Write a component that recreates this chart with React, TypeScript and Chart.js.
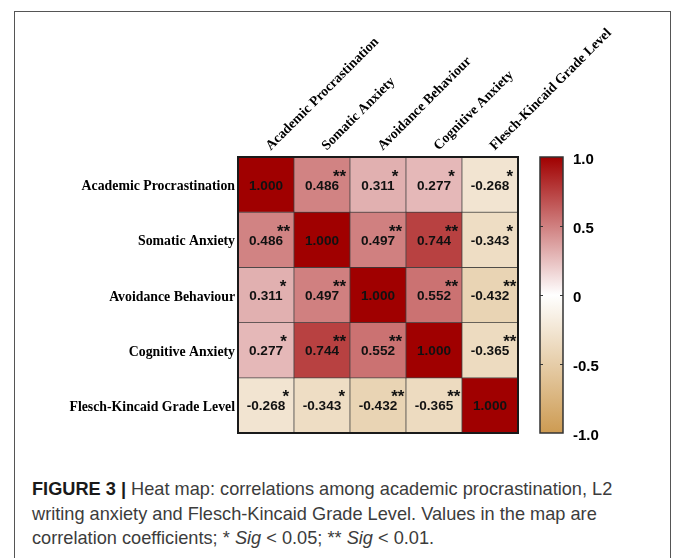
import React, { useEffect, useRef } from "react";
import { Chart, registerables } from "chart.js";

Chart.register(...registerables);

// ---------- data ----------
const variables = [
  "Academic Procrastination",
  "Somatic Anxiety",
  "Avoidance Behaviour",
  "Cognitive Anxiety",
  "Flesch-Kincaid Grade Level",
];

const academicProcrastination = [1.0, 0.486, 0.311, 0.277, -0.268];
const somaticAnxiety = [0.486, 1.0, 0.497, 0.744, -0.343];
const avoidanceBehaviour = [0.311, 0.497, 1.0, 0.552, -0.432];
const cognitiveAnxiety = [0.277, 0.744, 0.552, 1.0, -0.365];
const fleschKincaidGradeLevel = [-0.268, -0.343, -0.432, -0.365, 1.0];

const academicProcrastinationSig = ["", "**", "*", "*", "*"];
const somaticAnxietySig = ["**", "", "**", "**", "*"];
const avoidanceBehaviourSig = ["*", "**", "", "**", "**"];
const cognitiveAnxietySig = ["*", "**", "**", "", "**"];
const fleschKincaidGradeLevelSig = ["*", "*", "**", "**", ""];

const colorbarMin = -1;
const colorbarMax = 1;
const colorbarStep = 0.5;
const colorbarTickLabels: Record<string, string> = {
  "-1": "-1.0",
  "-0.5": "-0.5",
  "0": "0",
  "0.5": "0.5",
  "1": "1.0",
};

const matrix = [
  academicProcrastination,
  somaticAnxiety,
  avoidanceBehaviour,
  cognitiveAnxiety,
  fleschKincaidGradeLevel,
];
const sigMatrix = [
  academicProcrastinationSig,
  somaticAnxietySig,
  avoidanceBehaviourSig,
  cognitiveAnxietySig,
  fleschKincaidGradeLevelSig,
];

// ---------- colour map ----------
const POS_END = [160, 0, 0];
const NEG_END = [205, 155, 82];
function colorFor(v: number): string {
  const end = v >= 0 ? POS_END : NEG_END;
  const t = Math.min(1, Math.abs(v));
  const c = end.map((e) => Math.round(255 + (e - 255) * t));
  return `rgb(${c[0]},${c[1]},${c[2]})`;
}

const SANS = "'Liberation Sans', Arial, Helvetica, sans-serif";
const SERIF = "'Liberation Serif', 'Times New Roman', serif";

const cellPlugin = {
  id: "cellLabels",
  afterDatasetsDraw(chart: any) {
    const ctx = chart.ctx as CanvasRenderingContext2D;
    const area = chart.chartArea;
    chart.data.datasets.forEach((_ds: any, r: number) => {
      const meta = chart.getDatasetMeta(r);
      meta.data.forEach((el: any, c: number) => {
        const p = el.getProps(["x", "y", "base"], true);
        const cy = (p.y + p.base) / 2;
        const txt = matrix[r][c].toFixed(3);
        ctx.save();
        ctx.font = `bold 13.6px ${SANS}`;
        ctx.fillStyle = "#111";
        ctx.textAlign = "center";
        ctx.textBaseline = "middle";
        ctx.fillText(txt, p.x, cy + 1.2);
        const w = ctx.measureText(txt).width;
        const stars = sigMatrix[r][c];
        if (stars) {
          ctx.font = `bold 17px ${SANS}`;
          ctx.textAlign = "center";
          ctx.textBaseline = "alphabetic";
          ctx.fillText(stars, p.x + w / 2 + 0.5, cy - 3);
        }
        ctx.restore();
      });
    });
    ctx.save();
    ctx.strokeStyle = "#1a1a1a";
    ctx.lineWidth = 2;
    ctx.strokeRect(area.left, area.top, area.right - area.left, area.bottom - area.top);
    ctx.restore();
  },
  afterDraw(chart: any) {
    const ctx = chart.ctx as CanvasRenderingContext2D;
    const cb = chart.scales.cb;
    const x0 = cb.left + 22;
    const w = 23;
    const yTop = cb.getPixelForValue(colorbarMax);
    const yBot = cb.getPixelForValue(colorbarMin);
    const g = ctx.createLinearGradient(0, yTop, 0, yBot);
    g.addColorStop(0, colorFor(colorbarMax));
    g.addColorStop(0.5, colorFor(0));
    g.addColorStop(1, colorFor(colorbarMin));
    ctx.save();
    ctx.fillStyle = g;
    ctx.fillRect(x0, yTop, w, yBot - yTop);
    ctx.strokeStyle = "#333";
    ctx.lineWidth = 1.5;
    ctx.strokeRect(x0, yTop, w, yBot - yTop);
    ctx.lineWidth = 1;
    cb.ticks.forEach((t: any) => {
      if (t.value <= colorbarMin || t.value >= colorbarMax) return;
      const y = Math.round(cb.getPixelForValue(t.value)) + 0.5;
      ctx.beginPath();
      ctx.moveTo(x0, y);
      ctx.lineTo(x0 + 3, y);
      ctx.moveTo(x0 + w - 3, y);
      ctx.lineTo(x0 + w, y);
      ctx.stroke();
    });
    ctx.restore();
  },
};

export default function App() {
  const ref = useRef<HTMLCanvasElement>(null);

  useEffect(() => {
    const datasets = matrix.map((row, r) => ({
      label: variables[r],
      data: row.map(() => 1),
      backgroundColor: row.map((v) => colorFor(v)),
      borderColor: "rgba(50,50,50,0.9)",
      borderWidth: 0.7,
      borderSkipped: false as any,
      categoryPercentage: 1,
      barPercentage: 1,
      xAxisID: "x",
      yAxisID: "y",
    }));

    const chart = new Chart(ref.current!, {
      type: "bar",
      data: { labels: variables, datasets },
      options: {
        responsive: false,
        animation: false,
        devicePixelRatio: 1,
        layout: { padding: { left: 0, top: 0, right: 0, bottom: 10 } },
        plugins: {
          legend: { display: false },
          tooltip: { enabled: false },
        },
        scales: {
          x: {
            type: "category",
            position: "top",
            stacked: true,
            offset: true,
            grid: { display: false, drawTicks: false },
            border: { display: false },
            ticks: {
              autoSkip: false,
              minRotation: 45,
              maxRotation: 45,
              padding: 3,
              labelOffset: 14,
              color: "#000",
              font: { family: SERIF, size: 13.8, weight: "bold" },
            },
            afterFit: (s: any) => {
              s.height = 157;
            },
          },
          y: {
            type: "linear",
            display: false,
            stacked: true,
            reverse: true,
            min: 0,
            max: variables.length,
          },
          rows: {
            type: "category",
            position: "left",
            labels: variables,
            offset: true,
            grid: { display: false, drawTicks: false },
            border: { display: false },
            ticks: {
              padding: 3,
              labelOffset: 2,
              color: "#000",
              font: { family: SERIF, size: 13.8, weight: "bold" },
            },
            afterFit: (s: any) => {
              s.width = 238;
            },
          },
          cb: {
            type: "linear",
            position: "right",
            min: colorbarMin,
            max: colorbarMax,
            grid: {
              display: true,
              drawOnChartArea: false,
              drawTicks: true,
              tickLength: 52,
              color: "rgba(0,0,0,0)",
            },
            border: { display: false },
            ticks: {
              stepSize: colorbarStep,
              padding: 3,
              labelOffset: 3,
              color: "#000",
              font: { family: SANS, size: 15, weight: "bold" },
              callback: (v: any) => colorbarTickLabels[String(v)] ?? String(v),
            },
            afterFit: (s: any) => {
              s.width = 673 - 518;
            },
          },
        } as any,
      },
      plugins: [cellPlugin],
    });
    return () => chart.destroy();
  }, []);

  return (
    <div
      style={{
        position: "absolute",
        left: 0,
        top: 0,
        width: 673,
        height: 558,
        overflow: "hidden",
        background: "#fff",
      }}
    >
      <div
        style={{
          position: "absolute",
          left: 14,
          top: 11,
          width: 657,
          height: 600,
          border: "1px solid #555",
          boxSizing: "border-box",
        }}
      />
      <canvas
        ref={ref}
        width={673}
        height={445}
        style={{ position: "absolute", left: 0, top: 0, width: 673, height: 445 }}
      />
      <div
        style={{
          position: "absolute",
          left: 32,
          top: 477,
          whiteSpace: "nowrap",
          fontFamily: SANS,
          fontSize: 18.2,
          lineHeight: "24.5px",
          color: "#3c3c3c",
        }}
      >
        <span style={{ fontWeight: "bold", color: "#1a1a1a" }}>FIGURE 3 |</span> Heat map:
        correlations among academic procrastination, L2
        <br />
        writing anxiety and Flesch-Kincaid Grade Level. Values in the map are
        <br />
        correlation coefficients; * <i>Sig</i> &lt; 0.05; ** <i>Sig</i> &lt; 0.01.
      </div>
    </div>
  );
}
